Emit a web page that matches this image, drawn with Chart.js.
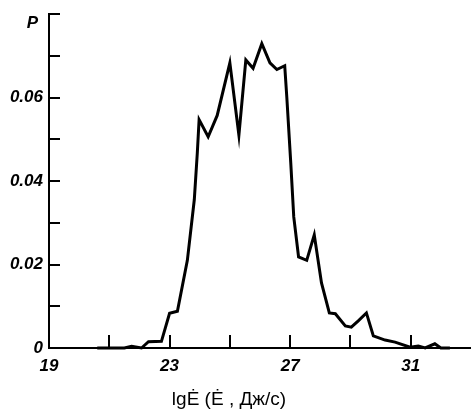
<!DOCTYPE html>
<html>
<head>
<meta charset="utf-8">
<script src="https://cdn.jsdelivr.net/npm/chart.js@4/dist/chart.umd.min.js"></script>
<style>
  html, body { margin: 0; padding: 0; background: #fff; }
  #wrap { width: 471px; height: 409px; position: relative; }
</style>
</head>
<body>
<div id="wrap"><canvas id="chart"></canvas></div>
<script>
// lg E values (x) and probability P (y)
const lgE = [20.6, 21.5, 21.74, 22.07, 22.3, 22.73, 23.0, 23.26, 23.59, 23.82,
  23.92, 23.98, 24.28, 24.58, 25.0, 25.3, 25.53, 25.77, 26.06, 26.33,
  26.56, 26.82, 26.89, 27.02, 27.12, 27.28, 27.55, 27.8, 28.04, 28.3,
  28.5, 28.83, 29.03, 29.26, 29.53, 29.76, 30.15, 30.48, 30.98, 31.25,
  31.48, 31.8, 32.0, 32.3];
const prob = [0, 0, 0.0004, 0, 0.0015, 0.0016, 0.0083, 0.0088, 0.021, 0.0355,
  0.0467, 0.0547, 0.0506, 0.0557, 0.0683, 0.051, 0.069, 0.067, 0.0729, 0.0683,
  0.0667, 0.0676, 0.060, 0.0444, 0.0314, 0.0218, 0.021, 0.0271, 0.0156, 0.0084,
  0.0082, 0.0053, 0.005, 0.0065, 0.0084, 0.0029, 0.0019, 0.0014, 0.0002, 0.0005,
  0, 0.001, 0, 0];

// tick labels
const xLabels = [19, 23, 27, 31];
const yLabels = { "0": "0", "0.02": "0.02", "0.04": "0.04", "0.06": "0.06" };
const yName = "P";
const xTitle = "lg\u0116 (\u0116 , Дж/с)";

const points = lgE.map((x, i) => ({ x: x, y: prob[i] }));

const tickFont = { family: "'Liberation Sans', Arial, sans-serif", size: 17, weight: "bold", style: "italic" };

// inward tick marks, axis name and title
const inwardTicks = {
  id: "inwardTicks",
  afterDraw(chart) {
    const ctx = chart.ctx;
    const xs = chart.scales.x;
    const ys = chart.scales.y;
    const area = chart.chartArea;
    ctx.save();
    ctx.strokeStyle = "#000";
    ctx.lineWidth = 2;
    xs.ticks.forEach(t => {
      if (t.value <= 19 || t.value >= 33) return;
      const px = Math.round(xs.getPixelForValue(t.value));
      ctx.beginPath();
      ctx.moveTo(px, area.bottom);
      ctx.lineTo(px, area.bottom - 13);
      ctx.stroke();
    });
    ys.ticks.forEach(t => {
      if (t.value <= 0) return;
      const py = Math.round(ys.getPixelForValue(t.value));
      ctx.beginPath();
      ctx.moveTo(area.left, py);
      ctx.lineTo(area.left + 11, py);
      ctx.stroke();
    });
    ctx.fillStyle = "#000";
    ctx.font = "italic bold 17px 'Liberation Sans', Arial, sans-serif";
    ctx.textAlign = "right";
    ctx.textBaseline = "alphabetic";
    ctx.fillText(yName, 38, 28);
    ctx.font = "19px 'Liberation Sans', Arial, sans-serif";
    ctx.textAlign = "center";
    ctx.fillText(xTitle, 229, 405);
    ctx.restore();
  }
};

new Chart(document.getElementById("chart"), {
  type: "line",
  data: {
    datasets: [{
      data: points,
      borderColor: "#000",
      borderWidth: 3,
      pointRadius: 0,
      tension: 0,
      fill: false,
      clip: false
    }]
  },
  options: {
    responsive: true,
    maintainAspectRatio: false,
    animation: false,
    layout: { padding: { top: 14, right: 0, left: 0, bottom: 0 } },
    plugins: { legend: { display: false }, tooltip: { enabled: false } },
    scales: {
      x: {
        type: "linear",
        min: 19,
        max: 33,
        afterFit(scale) {
          scale.height = 61;
          scale.paddingRight = 0;
          scale.paddingLeft = 0;
        },
        ticks: {
          stepSize: 2,
          color: "#000",
          font: tickFont,
          padding: 8,
          maxRotation: 0,
          autoSkip: false,
          callback: v => xLabels.includes(v) ? String(v) : ""
        },
        grid: { display: true, drawOnChartArea: false, drawTicks: false },
        border: { display: true, color: "#000", width: 2 }
      },
      y: {
        min: 0,
        max: 0.08,
        afterFit(scale) {
          scale.width = 49;
          scale.paddingTop = 0;
          scale.paddingBottom = 0;
        },
        ticks: {
          stepSize: 0.01,
          color: "#000",
          font: tickFont,
          padding: 6,
          autoSkip: false,
          callback: v => {
            const k = String(Math.round(v * 100) / 100);
            return yLabels[k] !== undefined ? yLabels[k] : "";
          }
        },
        grid: { display: true, drawOnChartArea: false, drawTicks: false },
        border: { display: true, color: "#000", width: 2 }
      }
    }
  },
  plugins: [inwardTicks]
});
</script>
</body>
</html>
